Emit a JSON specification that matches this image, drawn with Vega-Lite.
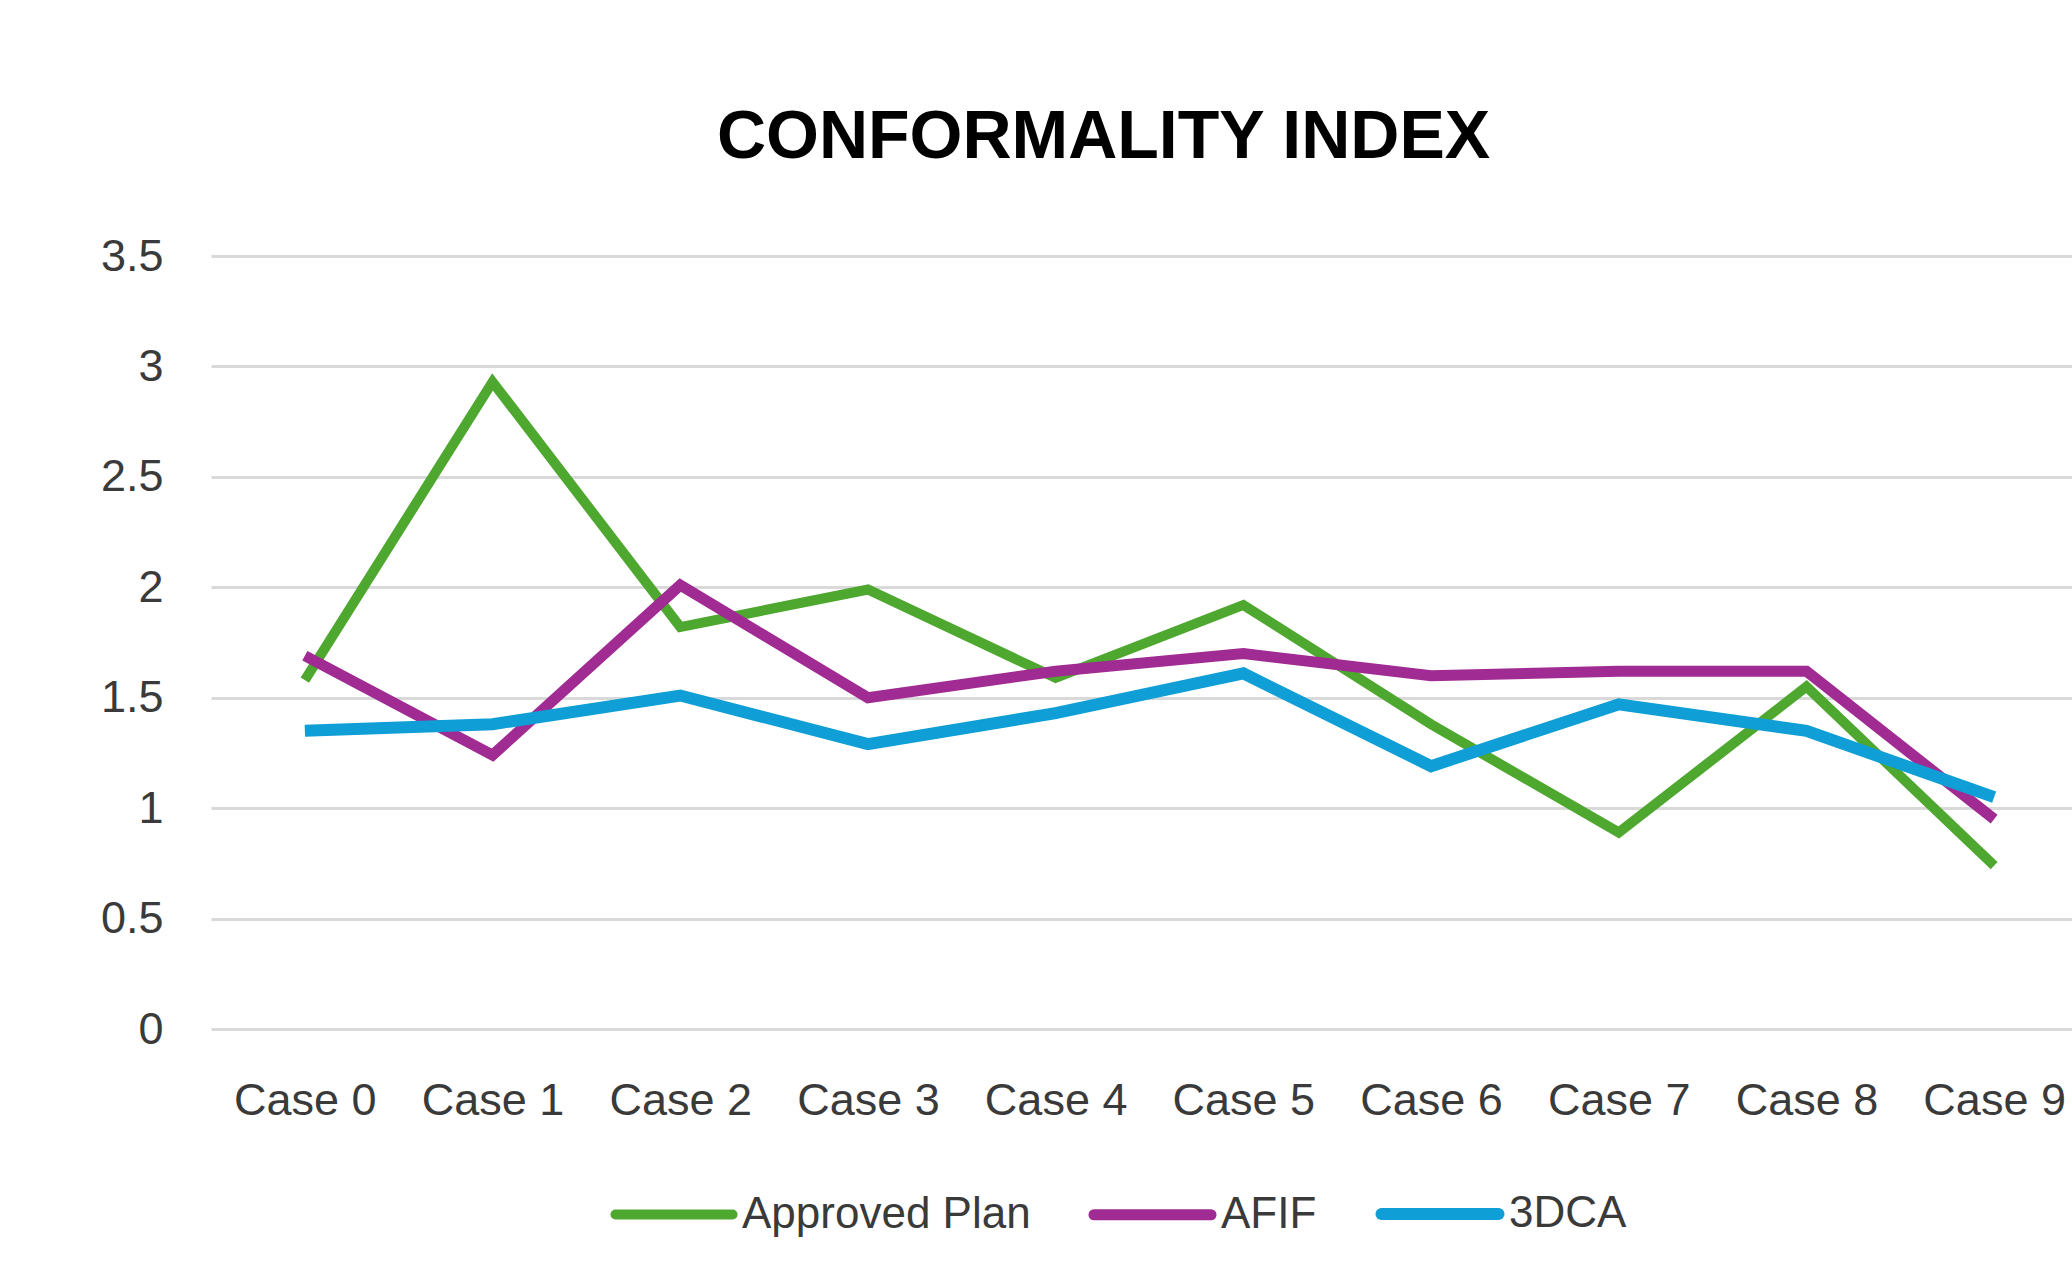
{
  "$schema": "https://vega.github.io/schema/vega-lite/v6.json",
  "autosize": "none",
  "width": 1861,
  "height": 773,
  "padding": {"left": 211, "top": 256, "right": 0, "bottom": 234},
  "background": "white",
  "title": {
    "text": "CONFORMALITY INDEX",
    "font": "Liberation Sans",
    "fontSize": 68,
    "fontWeight": "bold",
    "color": "#000000",
    "anchor": "middle",
    "frame": "group",
    "dx": -38,
    "baseline": "alphabetic",
    "offset": 8
  },
  "config": {
    "view": {"stroke": null},
    "font": "Liberation Sans"
  },
  "data": {
    "values": [
      {"case": "Case 0", "series": "Approved Plan", "value": 1.58},
      {"case": "Case 1", "series": "Approved Plan", "value": 2.93},
      {"case": "Case 2", "series": "Approved Plan", "value": 1.82},
      {"case": "Case 3", "series": "Approved Plan", "value": 1.99},
      {"case": "Case 4", "series": "Approved Plan", "value": 1.59},
      {"case": "Case 5", "series": "Approved Plan", "value": 1.92},
      {"case": "Case 6", "series": "Approved Plan", "value": 1.38},
      {"case": "Case 7", "series": "Approved Plan", "value": 0.89},
      {"case": "Case 8", "series": "Approved Plan", "value": 1.55},
      {"case": "Case 9", "series": "Approved Plan", "value": 0.74},
      {"case": "Case 0", "series": "AFIF", "value": 1.69},
      {"case": "Case 1", "series": "AFIF", "value": 1.24},
      {"case": "Case 2", "series": "AFIF", "value": 2.01},
      {"case": "Case 3", "series": "AFIF", "value": 1.50},
      {"case": "Case 4", "series": "AFIF", "value": 1.62},
      {"case": "Case 5", "series": "AFIF", "value": 1.70},
      {"case": "Case 6", "series": "AFIF", "value": 1.60},
      {"case": "Case 7", "series": "AFIF", "value": 1.62},
      {"case": "Case 8", "series": "AFIF", "value": 1.62},
      {"case": "Case 9", "series": "AFIF", "value": 0.95},
      {"case": "Case 0", "series": "3DCA", "value": 1.35},
      {"case": "Case 1", "series": "3DCA", "value": 1.38},
      {"case": "Case 2", "series": "3DCA", "value": 1.51},
      {"case": "Case 3", "series": "3DCA", "value": 1.29},
      {"case": "Case 4", "series": "3DCA", "value": 1.43},
      {"case": "Case 5", "series": "3DCA", "value": 1.61},
      {"case": "Case 6", "series": "3DCA", "value": 1.19},
      {"case": "Case 7", "series": "3DCA", "value": 1.47},
      {"case": "Case 8", "series": "3DCA", "value": 1.35},
      {"case": "Case 9", "series": "3DCA", "value": 1.05}
    ]
  },
  "mark": {"type": "line", "strokeJoin": "miter"},
  "encoding": {
    "x": {
      "field": "case",
      "type": "ordinal",
      "sort": null,
      "scale": {"type": "point", "range": [0, 1877], "padding": 0.5},
      "axis": {
        "title": null,
        "labelAngle": 0,
        "labelFontSize": 45,
        "labelColor": "#3a3a3a",
        "labelPadding": 49,
        "ticks": false,
        "domain": false,
        "grid": false
      }
    },
    "y": {
      "field": "value",
      "type": "quantitative",
      "scale": {"domain": [0, 3.5], "nice": false},
      "axis": {
        "title": null,
        "values": [0, 0.5, 1, 1.5, 2, 2.5, 3, 3.5],
        "format": "~g",
        "labelFontSize": 45,
        "labelColor": "#3a3a3a",
        "labelPadding": 48,
        "ticks": false,
        "domain": false,
        "grid": true,
        "gridColor": "#d9d9d9",
        "gridWidth": 3
      }
    },
    "color": {
      "field": "series",
      "type": "nominal",
      "sort": ["Approved Plan", "AFIF", "3DCA"],
      "scale": {"domain": ["Approved Plan", "AFIF", "3DCA"], "range": ["#4EA72E", "#A02B93", "#0F9ED5"]},
      "legend": {
        "title": null,
        "orient": "none",
        "direction": "horizontal",
        "legendX": 399,
        "legendY": 893,
        "padding": 0,
        "labelFontSize": 44,
        "labelColor": "#3a3a3a",
        "labelLimit": 0,
        "labelOffset": 4,
        "columnPadding": 40,
        "symbolType": "stroke",
        "symbolSize": 13700,
        "symbolStrokeWidth": 12,
        "encode": {"symbols": {"update": {"strokeCap": {"value": "round"}}}}
      }
    },
    "strokeWidth": {
      "field": "series",
      "type": "nominal",
      "scale": {"domain": ["Approved Plan", "AFIF", "3DCA"], "range": [10, 12, 12]},
      "legend": null
    }
  }
}
